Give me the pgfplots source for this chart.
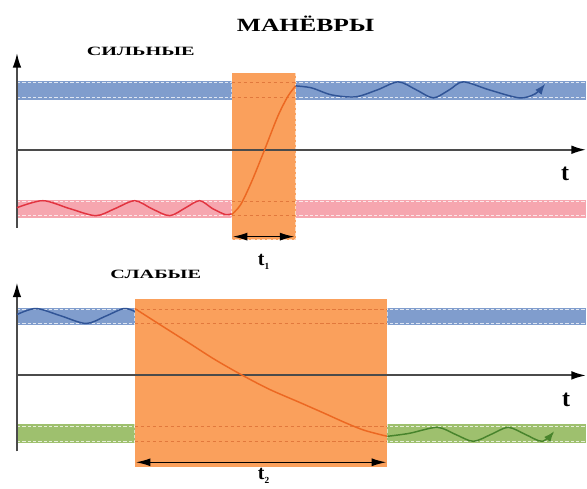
\documentclass[border=0pt]{standalone}
\usepackage{pgfplots}
\pgfplotsset{compat=1.18}
\usepackage{fontspec}
\setmainfont{Liberation Serif}
\usetikzlibrary{arrows.meta}
\definecolor{bandblue}{RGB}{128,157,205}
\definecolor{bandred}{RGB}{246,166,175}
\definecolor{bandgreen}{RGB}{158,192,110}
\definecolor{boxorange}{RGB}{250,160,92}
\definecolor{lineorange}{RGB}{236,104,34}
\definecolor{lineblue}{RGB}{48,84,150}
\definecolor{linered}{RGB}{226,52,64}
\definecolor{linegreen}{RGB}{72,132,44}
\definecolor{axisgray}{RGB}{75,75,75}
\definecolor{dashorange}{RGB}{225,120,60}
\begin{document}
\begin{tikzpicture}
\begin{axis}[x=0.75pt, y=0.75pt, y dir=reverse, xmin=0, xmax=587, ymin=0, ymax=486,
  hide axis, clip=false, scale only axis]
% background
\addplot[draw=none, fill=white] coordinates {(0,0) (587,0) (587,486) (0,486)} -- cycle;
% ---------- top panel bands
\addplot[draw=none, fill=bandblue] coordinates {(17,81) (587,81) (587,100) (17,100)} -- cycle;
\addplot[draw=none, fill=bandred] coordinates {(17,200) (587,200) (587,218) (17,218)} -- cycle;
\addplot[white, opacity=0.75, line width=0.6pt, dash pattern=on 2.5pt off 1.5pt] coordinates {(17,83) (587,83)};
\addplot[white, opacity=0.75, line width=0.6pt, dash pattern=on 2.5pt off 1.5pt] coordinates {(17,98) (587,98)};
\addplot[white, opacity=0.75, line width=0.6pt, dash pattern=on 2.5pt off 1.5pt] coordinates {(17,202) (587,202)};
\addplot[white, opacity=0.75, line width=0.6pt, dash pattern=on 2.5pt off 1.5pt] coordinates {(17,216) (587,216)};
% ---------- bottom panel bands
\addplot[draw=none, fill=bandblue] coordinates {(17,308) (587,308) (587,326) (17,326)} -- cycle;
\addplot[draw=none, fill=bandgreen] coordinates {(17,425) (587,425) (587,444) (17,444)} -- cycle;
\addplot[white, opacity=0.75, line width=0.6pt, dash pattern=on 2.5pt off 1.5pt] coordinates {(17,310) (587,310)};
\addplot[white, opacity=0.75, line width=0.6pt, dash pattern=on 2.5pt off 1.5pt] coordinates {(17,324) (587,324)};
\addplot[white, opacity=0.75, line width=0.6pt, dash pattern=on 2.5pt off 1.5pt] coordinates {(17,427) (587,427)};
\addplot[white, opacity=0.75, line width=0.6pt, dash pattern=on 2.5pt off 1.5pt] coordinates {(17,442) (587,442)};
% ---------- orange boxes
\addplot[fill=boxorange, draw=white, draw opacity=0.6, line width=0.6pt, dash pattern=on 2.5pt off 1.5pt] coordinates {(232,73) (296,73) (296,240) (232,240)} -- cycle;
\addplot[fill=boxorange, draw=white, draw opacity=0.6, line width=0.6pt, dash pattern=on 2.5pt off 1.5pt] coordinates {(135,299) (388,299) (388,468) (135,468)} -- cycle;
% dashed lines inside boxes
\addplot[dashorange, line width=0.6pt, dash pattern=on 2.5pt off 2pt] coordinates {(232,83) (296,83)};
\addplot[dashorange, line width=0.6pt, dash pattern=on 2.5pt off 2pt] coordinates {(232,98) (296,98)};
\addplot[dashorange, line width=0.6pt, dash pattern=on 2.5pt off 2pt] coordinates {(232,202) (296,202)};
\addplot[dashorange, line width=0.6pt, dash pattern=on 2.5pt off 2pt] coordinates {(232,216) (296,216)};
\addplot[dashorange, line width=0.6pt, dash pattern=on 2.5pt off 2pt] coordinates {(135,310) (388,310)};
\addplot[dashorange, line width=0.6pt, dash pattern=on 2.5pt off 2pt] coordinates {(135,324) (388,324)};
\addplot[dashorange, line width=0.6pt, dash pattern=on 2.5pt off 2pt] coordinates {(135,427) (388,427)};
\addplot[dashorange, line width=0.6pt, dash pattern=on 2.5pt off 2pt] coordinates {(135,442) (388,442)};
% ---------- axes
\addplot[axisgray, line width=1.4pt, -{Latex[length=11pt,width=6.5pt,black]}] coordinates {(17,228) (17,53)};
\addplot[axisgray, line width=1.4pt, -{Latex[length=11pt,width=6.5pt,black]}] coordinates {(17,150) (587,150)};
\addplot[axisgray, line width=1.4pt, -{Latex[length=11pt,width=6.5pt,black]}] coordinates {(17,452) (17,283)};
\addplot[axisgray, line width=1.4pt, -{Latex[length=11pt,width=6.5pt,black]}] coordinates {(17,376) (587,376)};
% ---------- curves top
\addplot[linered, line width=1.1pt, smooth] coordinates {(17,208) (43,201) (70,209) (96,216) (115,209) (135,201) (152,209) (170,216) (186,208) (200,201) (213,209) (226,215) (232,214)};
\addplot[lineorange, line width=1.1pt, smooth] coordinates {(232,215) (241,205) (252,182) (265,150) (278,117) (288,97) (296,86)};
\addplot[lineblue, line width=1.1pt, smooth, -{Latex[length=8pt,width=6pt]}] coordinates {(296,86) (312,88) (332,95) (356,97) (378,90) (399,82) (417,90) (434,98) (450,90) (464,82) (490,90) (520,98) (536,94) (546,84)};
% ---------- curves bottom
\addplot[lineblue, line width=1.1pt, smooth] coordinates {(17,315) (36,309) (60,316) (86,324) (105,317) (124,309) (135,312)};
\addplot[lineorange, line width=1.1pt, smooth] coordinates {(135,309) (160,325) (190,344) (215,360) (243,376) (270,390) (300,403) (325,414) (345,423) (365,431) (388,437)};
\addplot[linegreen, line width=1.1pt, smooth, -{Latex[length=8pt,width=6pt]}] coordinates {(388,437) (410,434) (438,428) (456,435) (474,442) (492,435) (509,428) (526,435) (543,442) (555,432)};
% ---------- dimension arrows
\addplot[black, line width=1.1pt, {Latex[length=11pt,width=6pt]}-{Latex[length=11pt,width=6pt]}] coordinates {(233,237) (295,237)};
\addplot[black, line width=1.1pt, {Latex[length=11pt,width=6pt]}-{Latex[length=11pt,width=6pt]}] coordinates {(136,463) (387,463)};
% ---------- texts
\node[font=\bfseries\fontsize{14}{16}\selectfont] at (axis cs:306,24) {\scalebox{1.37}[1]{МАНЁВРЫ}};
\node[font=\bfseries\fontsize{9.5}{11}\selectfont] at (axis cs:141,51) {\scalebox{1.6}[1]{СИЛЬНЫЕ}};
\node[font=\bfseries\fontsize{9.5}{11}\selectfont] at (axis cs:156,275) {\scalebox{1.6}[1]{СЛАБЫЕ}};
\node[font=\bfseries\fontsize{18}{20}\selectfont] at (axis cs:566,174) {t};
\node[font=\bfseries\fontsize{18}{20}\selectfont] at (axis cs:567,400) {t};
\node[font=\bfseries\fontsize{15}{17}\selectfont] at (axis cs:264,262) {t\raisebox{-3pt}{\fontsize{7}{8}\selectfont 1}};
\node[font=\bfseries\fontsize{15}{17}\selectfont] at (axis cs:264,477) {t\raisebox{-3pt}{\fontsize{7}{8}\selectfont 2}};
\end{axis}
\end{tikzpicture}
\end{document}
